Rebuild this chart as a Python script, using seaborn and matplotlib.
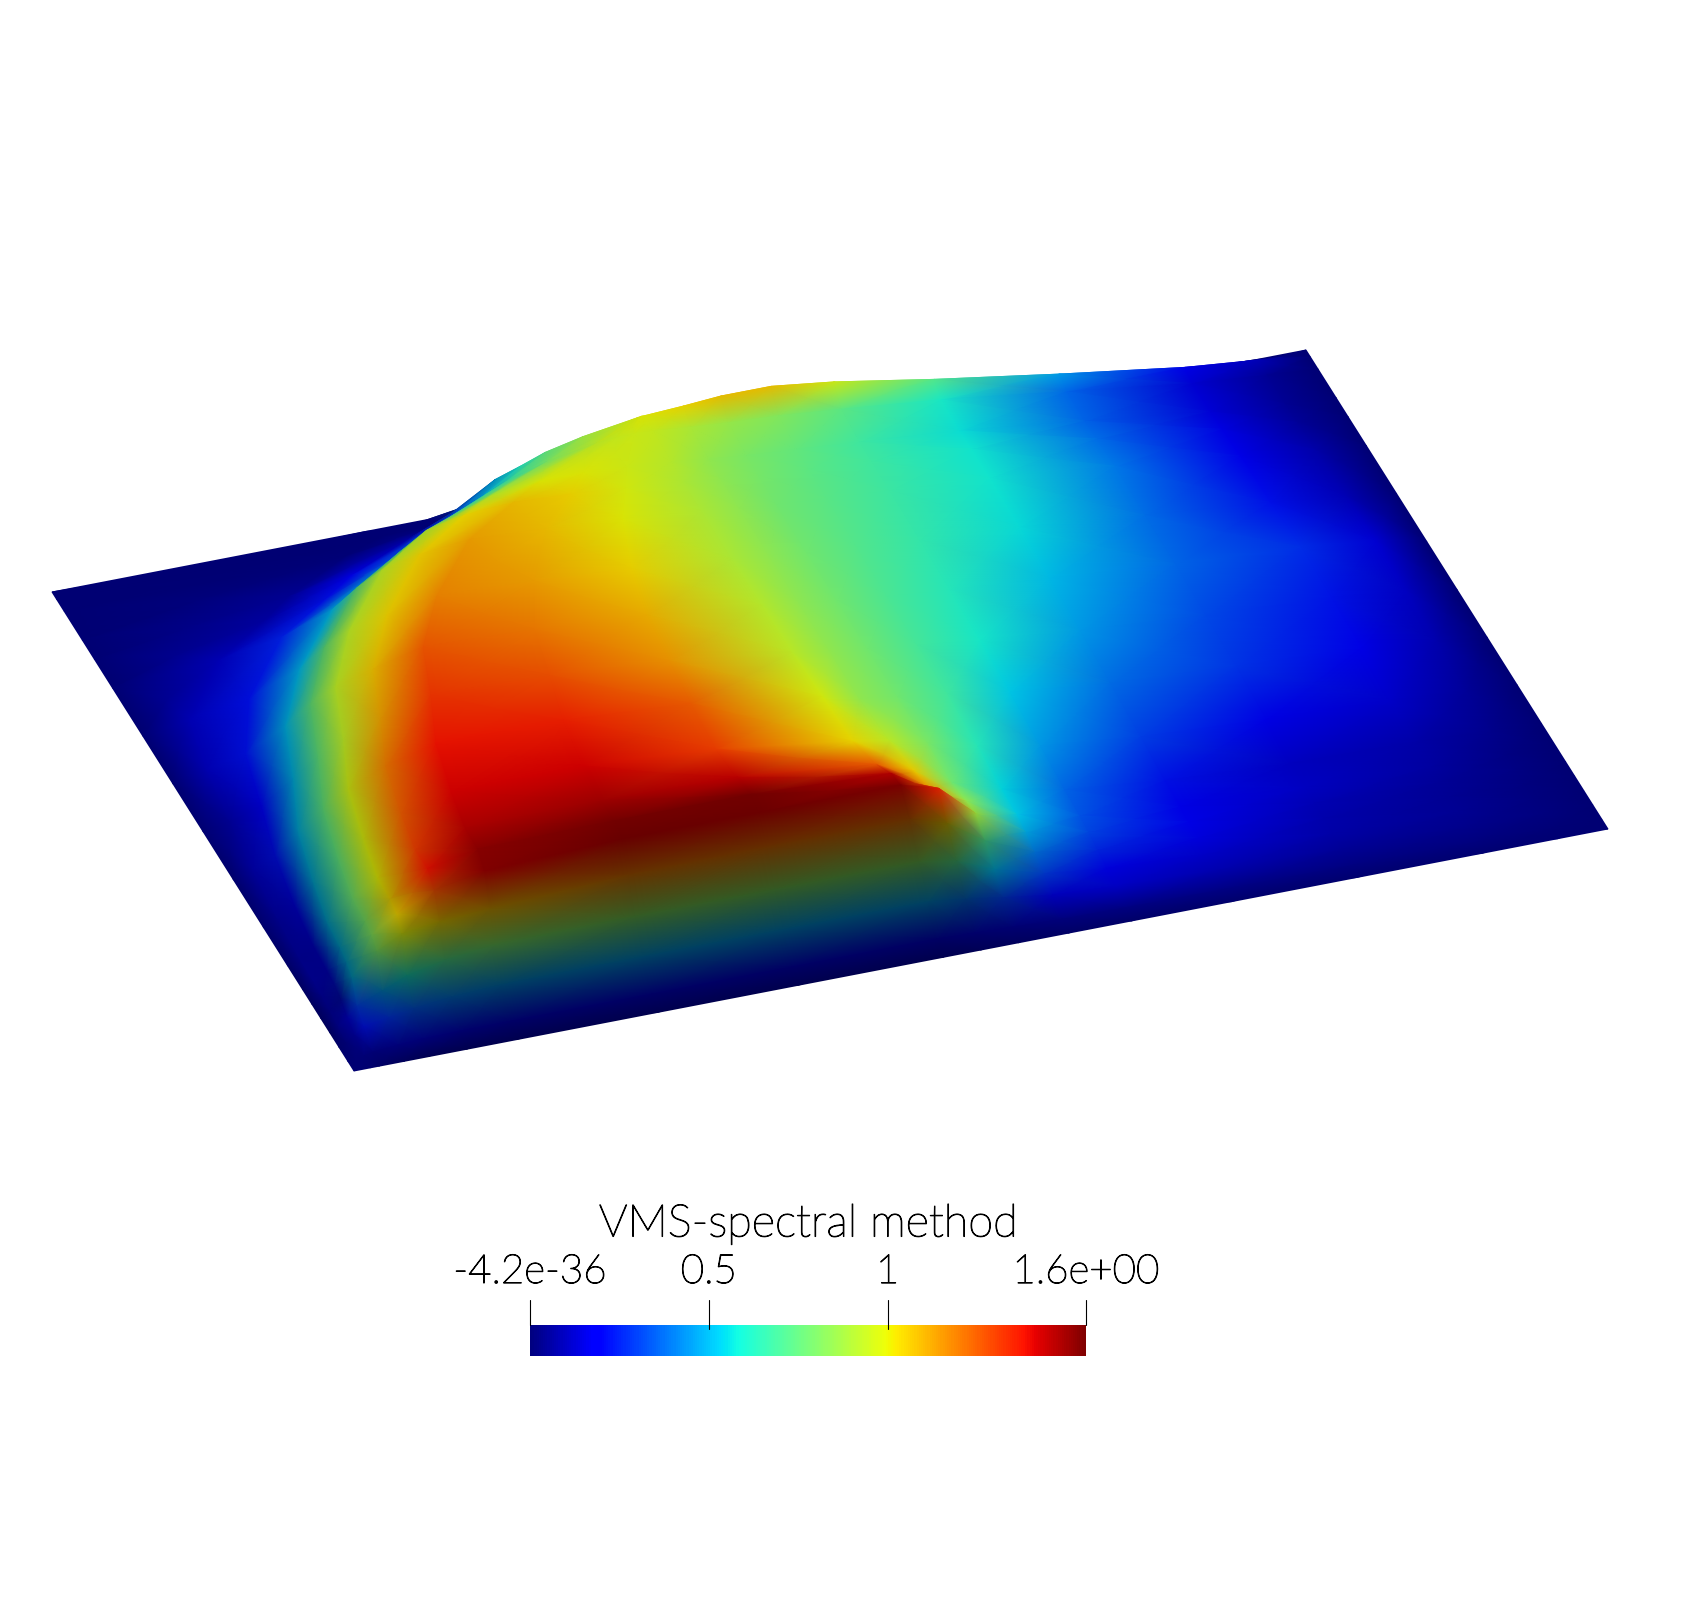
import numpy as np
import matplotlib
matplotlib.use("Agg")
import matplotlib.pyplot as plt
import matplotlib.patheffects as pe
import seaborn as sns

# rows of the surface, position along the left edge
v_pos = [0, .02, .05, .08, .11, .14, .17, .22, .3, .4, .5, .6, .7, .8, .86, .9, .96, .985, 1]
# where the left front reaches 0.5 on each row, the first columns follow it
front_u = [.02, .02, .02, .022, .025, .028, .03, .032, .04, .052, .072, .09, .125, .175, .225, .255, .315, .35, .34]
# columns right of the fan tip stay put
right_u = [.5, .53, .57, .62, .7, .8, .9, .96, 1]

# values, one list per row
row_00 = [0] * 20
row_02 = [0, .01, .03, .06, .09, .11, .12, .12, .12, .12, .12, .1, .08, .06, .05, .04, .03, .02, .01, 0]
row_05 = [0, .04, .12, .22, .28, .34, .4, .44, .45, .45, .45, .38, .3, .2, .15, .1, .06, .04, .02, 0]
row_08 = [0, .07, .16, .3, .45, .6, .72, .8, .82, .82, .82, .72, .5, .3, .2, .13, .08, .05, .02, 0]
row_11 = [0, .08, .22, .5, .8, .98, 1.05, 1.1, 1.2, 1.22, 1.22, 1.05, .7, .4, .26, .16, .09, .05, .02, 0]
row_14 = [0, .08, .22, .5, .82, 1.05, 1.28, 1.42, 1.5, 1.5, 1.5, 1.35, .88, .48, .31, .18, .1, .06, .03, 0]
row_17 = [0, .08, .2, .5, .8, 1.05, 1.38, 1.52, 1.55, 1.55, 1.46, 1.15, .85, .53, .34, .19, .12, .07, .03, 0]
row_22 = [0, .07, .2, .5, .78, 1.0, 1.3, 1.47, 1.49, 1.45, 1.25, 1.05, .78, .55, .37, .22, .12, .08, .04, 0]
row_30 = [0, .06, .18, .5, .75, .98, 1.25, 1.42, 1.42, 1.3, 1.03, .93, .8, .62, .45, .3, .2, .13, .06, 0]
row_40 = [0, .08, .22, .5, .75, .97, 1.2, 1.38, 1.36, 1.25, .98, .85, .78, .68, .53, .38, .28, .2, .09, 0]
row_50 = [0, .06, .2, .5, .75, .93, 1.13, 1.32, 1.27, 1.15, .93, .85, .78, .69, .59, .45, .32, .23, .12, 0]
row_60 = [0, .1, .22, .5, .75, .93, 1.08, 1.26, 1.2, 1.1, .92, .84, .78, .7, .62, .51, .37, .27, .14, 0]
row_70 = [0, .1, .22, .5, .75, .93, 1.05, 1.18, 1.13, 1.04, .9, .84, .78, .72, .65, .56, .38, .22, .1, 0]
row_80 = [0, .1, .25, .5, .75, .93, 1.05, 1.13, 1.08, 1.0, .9, .84, .78, .73, .67, .58, .4, .2, .08, 0]
row_86 = [0, .07, .22, .45, .7, .92, 1.03, 1.08, 1.04, .98, .9, .84, .79, .74, .68, .58, .38, .17, .06, 0]
row_90 = [0, .05, .18, .35, .55, .75, .92, 1.0, 1.0, .97, .92, .85, .8, .75, .68, .57, .36, .15, .05, 0]
row_96 = [0, .01, .08, .35, .5, .65, .8, .93, .95, .96, .95, .9, .86, .82, .74, .6, .37, .14, .05, 0]
row_98 = [0, 0, .02, .5, .62, .75, .87, .98, .99, 1.0, 1.0, 1.03, 1.07, 1.07, .96, .72, .45, .2, .1, 0]
row_100 = [0] * 20

tick_values = [0, .5, 1, 1.555]
tick_labels = ["-4.2e-36", "0.5", "1", "1.6e+00"]
bar_values = np.linspace(0, 1.555, 256)

sns.set_theme(style="white")
plt.rcParams["font.family"] = ["Lato", "DejaVu Sans"]
jet = plt.get_cmap("jet")

z = np.array([row_00, row_02, row_05, row_08, row_11, row_14, row_17, row_22, row_30, row_40,
              row_50, row_60, row_70, row_80, row_86, row_90, row_96, row_98, row_100])

# curved columns: offsets around the front, then on to u=.47, then the fixed right part
vv = np.tile(np.array(v_pos)[:, None], (1, z.shape[1]))
uu = np.zeros(z.shape)
for i, r in enumerate(front_u):
    c7 = r + .11
    uu[i, :11] = [0, r - min(.7 * r, .09), r - min(.35 * r, .04), r, r + .02, r + .04, r + .07, c7,
                  c7 + (.47 - c7) * .33, c7 + (.47 - c7) * .66, .47]
    uu[i, 11:] = right_u

# warp by value, parallel view of the plate
x = 354 + 1254 * uu - 302 * vv
y = 1071 - 242 * uu - 479 * vv - 70 * z

# slopes facing the front / left come out dark
dz_i, dz_j = np.gradient(z)
du_i, du_j = np.gradient(uu)
dz_u = dz_j / du_j
dz_v = (dz_i - dz_u * du_i) / np.gradient(vv, axis=0)
dz_v[vv > .85] = 0
shade = 0.9 / np.sqrt(1 + (np.clip(dz_v, 0, None) / 5.5) ** 2 + (np.clip(dz_u, 0, None) / 14) ** 2)
rgb = jet(np.clip(z / 1.555, 0, 1))[..., :3] * shade[..., None]

fig = plt.figure(figsize=(16.86, 16.10), dpi=100)

# colour bar
bar_left, bar_right, bar_top, bar_bottom = 530, 1086, 1325, 1356
cax = fig.add_axes([bar_left / 1686, 1 - bar_bottom / 1610, (bar_right - bar_left) / 1686, (bar_bottom - bar_top) / 1610])
sns.heatmap([bar_values], ax=cax, cmap=jet, vmin=0, vmax=1.555, cbar=False, xticklabels=False, yticklabels=False)

ax = fig.add_axes([0, 0, 1, 1], zorder=5)
ax.set_xlim(0, 1686)
ax.set_ylim(1610, 0)
ax.axis("off")

# back rows first so the crest covers what is behind it
ax.pcolormesh(x[::-1], y[::-1], rgb[::-1], shading="gouraud")

stroke = [pe.withStroke(linewidth=0.8, foreground="black")]
for val, lab in zip(tick_values, tick_labels):
    tx = bar_left + (bar_right - bar_left) * val / 1.555
    end = 1329 if 0 < val < 1.555 else 1325
    ax.plot([tx, tx], [1300, end], color="black", lw=0.8)
    ax.text(tx, 1272, lab, ha="center", va="center", fontsize=29, color="black",
            fontweight="light", path_effects=stroke)

ax.text(808, 1224, "VMS-spectral method", ha="center", va="center", fontsize=32.5, color="black",
        fontweight="light", path_effects=stroke)

fig.savefig("out.png", dpi=100)
